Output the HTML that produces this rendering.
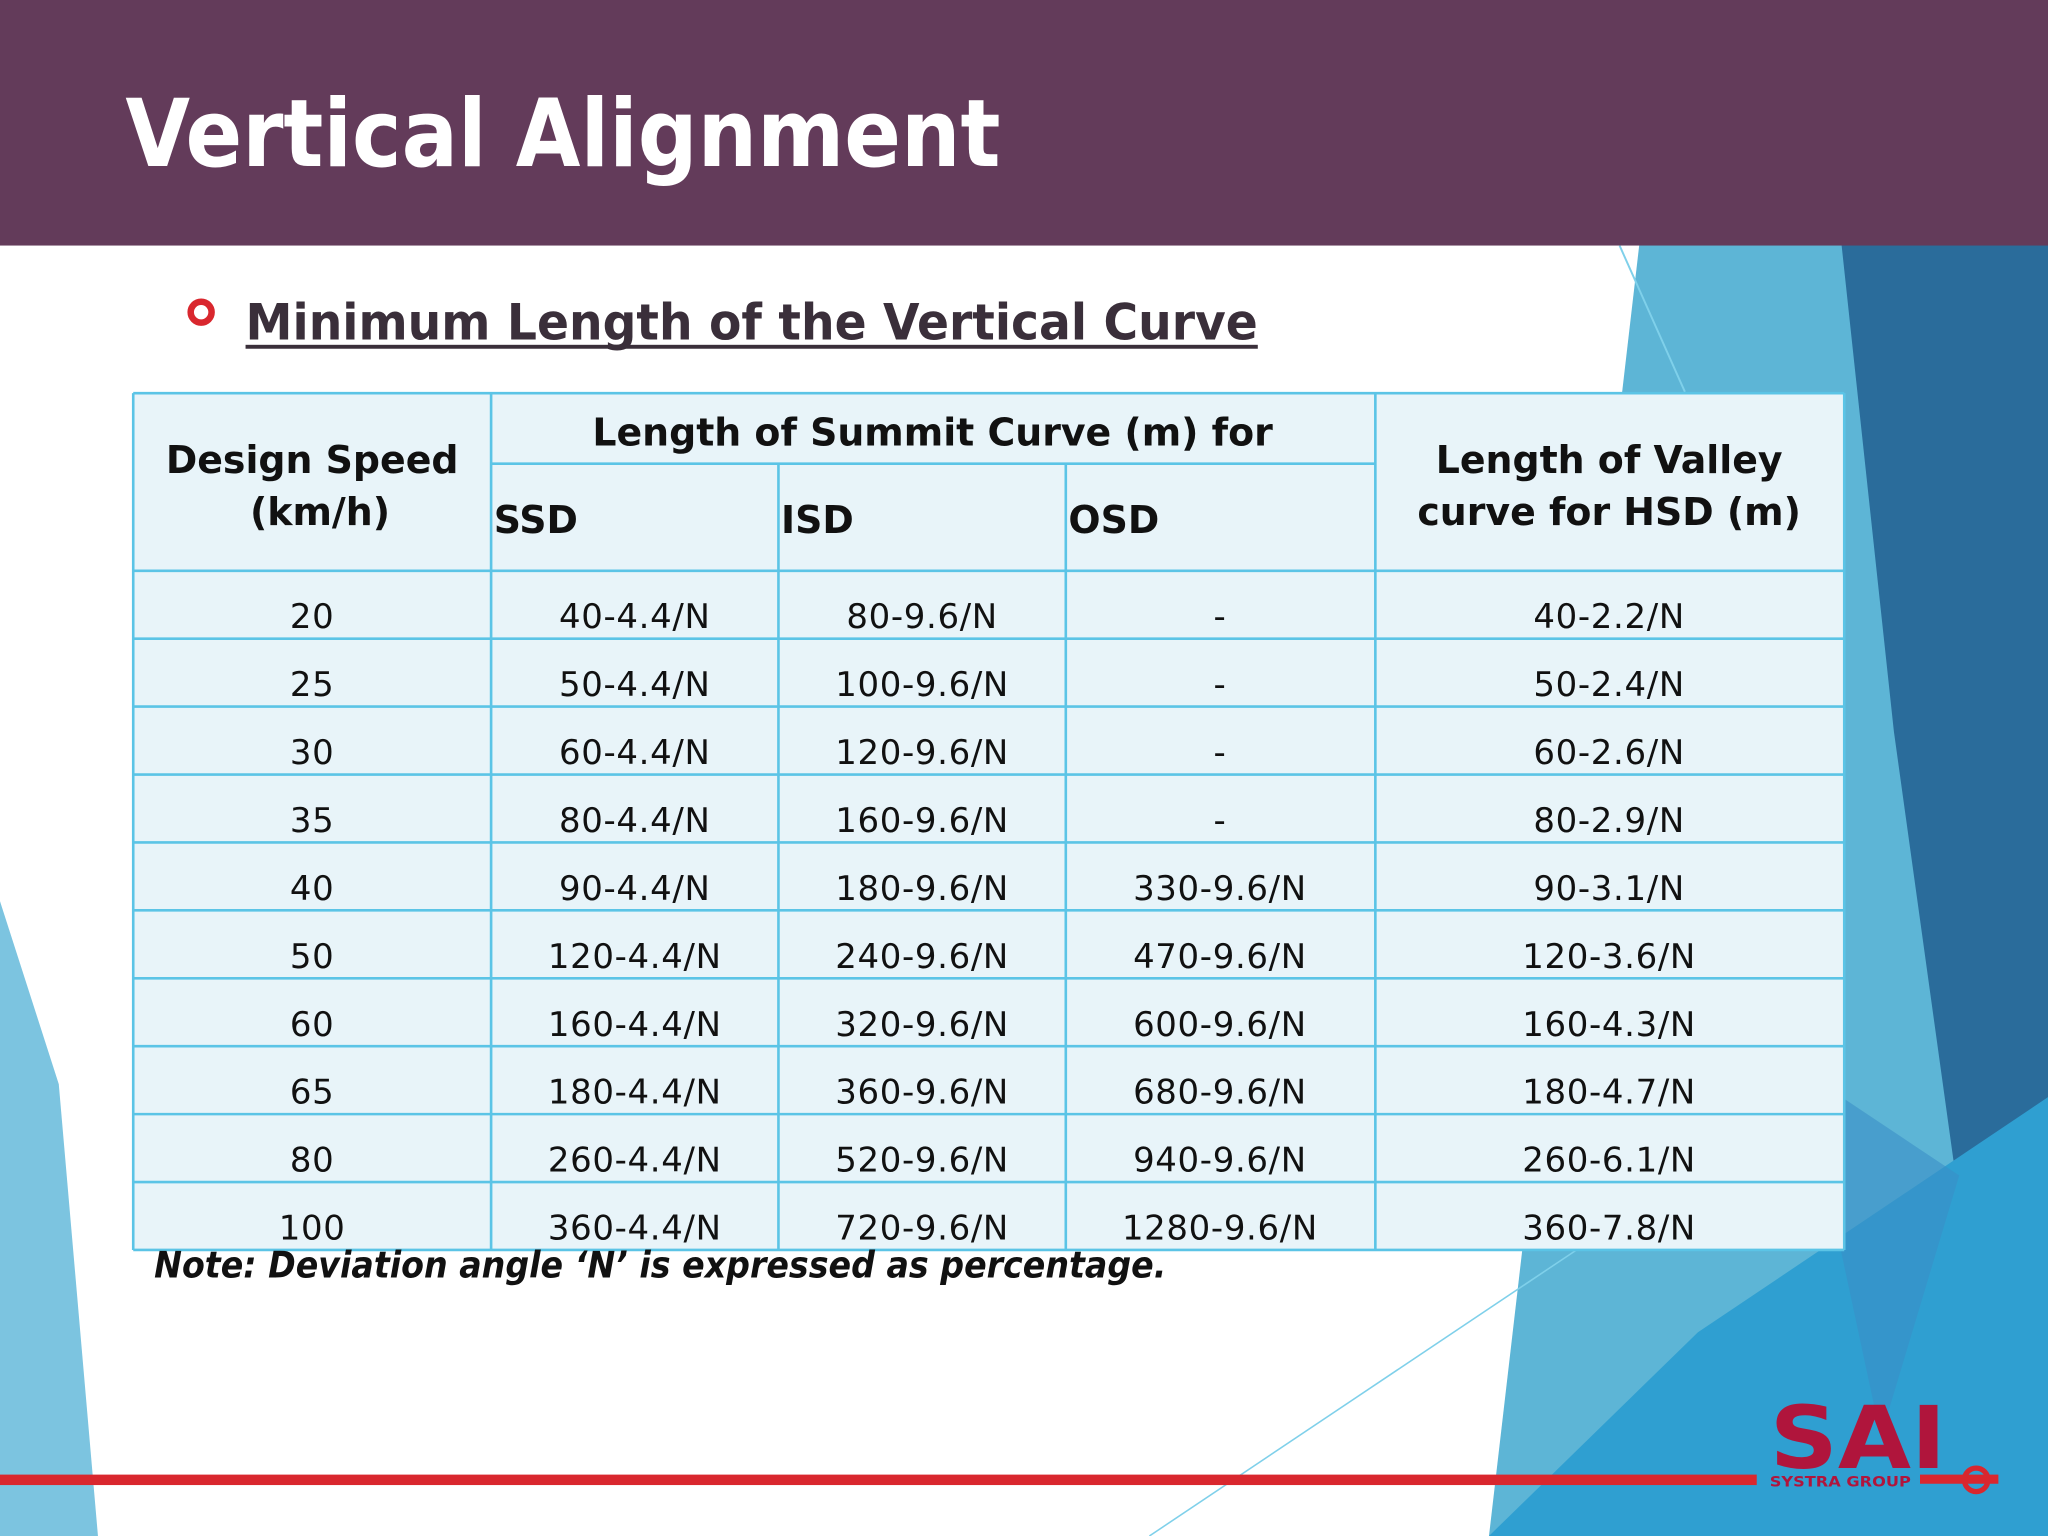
<!DOCTYPE html>
<html><head><meta charset="utf-8"><style>
html,body{margin:0;padding:0;background:#fff;}
svg{display:block;}
text{font-family:"DejaVu Sans","Liberation Sans",sans-serif;}
</style></head><body>
<svg id="slide" width="2048" height="1536" viewBox="0 0 1568 1176" xmlns="http://www.w3.org/2000/svg">
<g>
<polygon points="1255,188 1568,188 1568,1176 1140,1176" fill="#5db5d6"/>
<polygon points="1410,188 1568,188 1568,850 1500,920 1450,560" fill="#2a6c9b"/>
<polygon points="1568,840 1568,1176 1140,1176 1300,1020" fill="#2f9fd1"/>
<polygon points="1380,820 1500,900 1440,1100" fill="#3a8fc6" opacity="0.6"/>
<polygon points="0,690 45,830 75,1176 0,1176" fill="#7cc4e0"/>
<line x1="1240" y1="188" x2="1290" y2="300" stroke="#7fd0ea" stroke-width="1.5"/>
<line x1="880" y1="1176" x2="1210" y2="955" stroke="#7fd0ea" stroke-width="1.2"/>
</g>
<rect x="0" y="0" width="1568" height="188" fill="#633b5a"/>
<text x="96" y="127" font-size="72" font-weight="bold" fill="#fff" textLength="670" lengthAdjust="spacingAndGlyphs">Vertical Alignment</text>
<circle cx="154" cy="239" r="8" fill="none" stroke="#d9272e" stroke-width="5"/>
<text x="188" y="260" font-size="38" font-weight="bold" fill="#3a2f3a" textLength="775" lengthAdjust="spacingAndGlyphs">Minimum Length of the Vertical Curve</text>
<rect x="188" y="264" width="775" height="3" fill="#3a2f3a"/>
<g id="table"></g>
<text x="118" y="978" font-size="28" font-weight="bold" font-style="italic" fill="#111" textLength="775" lengthAdjust="spacingAndGlyphs">Note: Deviation angle ‘N’ is expressed as percentage.</text>
<rect x="0" y="1129" width="1345" height="8" fill="#d9272e"/>
<g>
<text x="1355" y="1124" font-size="66" font-weight="bold" fill="#b0153c" textLength="135" lengthAdjust="spacingAndGlyphs">SAI</text>
<text x="1355" y="1138" font-size="11" font-weight="bold" fill="#b0153c" textLength="108" lengthAdjust="spacingAndGlyphs">SYSTRA GROUP</text>
<rect x="1470" y="1129" width="60" height="7" fill="#d9272e"/>
<circle cx="1513" cy="1133" r="9" fill="none" stroke="#d9272e" stroke-width="4"/>
</g>
</svg>
<script>
const speeds=["20","25","30","35","40","50","60","65","80","100"];
const ssd=["40-4.4/N","50-4.4/N","60-4.4/N","80-4.4/N","90-4.4/N","120-4.4/N","160-4.4/N","180-4.4/N","260-4.4/N","360-4.4/N"];
const isd=["80-9.6/N","100-9.6/N","120-9.6/N","160-9.6/N","180-9.6/N","240-9.6/N","320-9.6/N","360-9.6/N","520-9.6/N","720-9.6/N"];
const osd=["-","-","-","-","330-9.6/N","470-9.6/N","600-9.6/N","680-9.6/N","940-9.6/N","1280-9.6/N"];
const valley=["40-2.2/N","50-2.4/N","60-2.6/N","80-2.9/N","90-3.1/N","120-3.6/N","160-4.3/N","180-4.7/N","260-6.1/N","360-7.8/N"];
{
const NS="http://www.w3.org/2000/svg";
const g=document.getElementById('table');
const cols=[102,376,596,816,1053,1412];
const tableTop=301,hb=437,rh=52,tableBottom=hb+rh*speeds.length;
function mk(tag,attrs,txt){const e=document.createElementNS(NS,tag);for(const k in attrs)e.setAttribute(k,attrs[k]);if(txt!==undefined)e.textContent=txt;g.appendChild(e);return e;}
const bg=mk('rect',{x:cols[0],y:tableTop,width:cols[5]-cols[0],height:tableBottom-tableTop,fill:'#e8f4f9'});


const st={stroke:'#5bc4e6','stroke-width':2};
const ys=[tableTop,hb];for(let i=1;i<=speeds.length;i++)ys.push(hb+rh*i);
ys.forEach(y=>{const l=mk('line',Object.assign({x1:cols[0],x2:cols[5],y1:y,y2:y},st));

});
const hl=mk('line',Object.assign({x1:cols[1],x2:cols[4],y1:355,y2:355},st));


cols.forEach((x,i)=>{const y1=(i===2||i===3)?355:tableTop;const l=mk('line',Object.assign({x1:x,x2:x,y1:y1,y2:tableBottom},st));

});
function t(x,y,s,opts,name){const e=mk('text',Object.assign({x:x,y:y,'font-size':28,fill:'#111','text-anchor':'middle'},opts||{}),s);


return e;}
const hb_={'font-weight':'bold','font-size':29};
t(239,362,'Design Speed',hb_,'header-design-speed');
t(245,402,'(km/h)',hb_,'header-units');
t(714,341,'Length of Summit Curve (m) for',hb_,'header-summit-curve');
t(378,408,'SSD',Object.assign({'text-anchor':'start'},hb_),'header-ssd');
t(598,408,'ISD',Object.assign({'text-anchor':'start'},hb_),'header-isd');
t(818,408,'OSD',Object.assign({'text-anchor':'start'},hb_),'header-osd');
t(1232,362,'Length of Valley',hb_,'header-valley-1');
t(1232,402,'curve for HSD (m)',hb_,'header-valley-2');
const centers=[239,486,706,934,1232];
const series=[speeds,ssd,isd,osd,valley];
const names=['speed-cell','ssd-cell','isd-cell','osd-cell','valley-cell'];
for(let r=0;r<speeds.length;r++){
  for(let c=0;c<5;c++){
    t(centers[c],hb+rh*r+44,series[c][r],{'font-size':26,'letter-spacing':0.5},names[c]);
  }
}
}
</script>
</body></html>
